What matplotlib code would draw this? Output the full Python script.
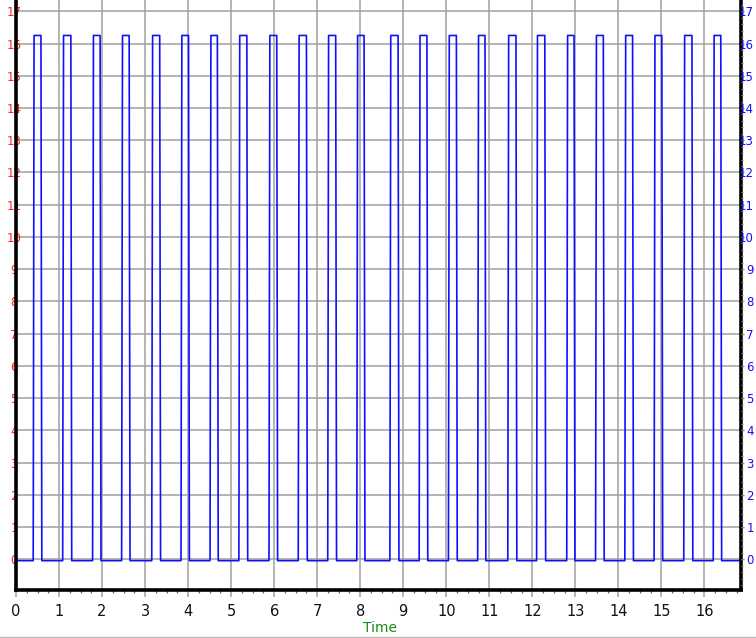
import matplotlib
matplotlib.use("Agg")
import matplotlib.pyplot as plt
from matplotlib.ticker import MultipleLocator
import numpy as np

# Data
rise_times = [0.40, 1.085, 1.78, 2.455, 3.155, 3.835, 4.51, 5.18, 5.88, 6.56, 7.245, 7.92,
              8.69, 9.37, 10.05, 10.73, 11.43, 12.10, 12.80, 13.47, 14.15, 14.83, 15.52, 16.205]
fall_times = [0.60, 1.295, 1.975, 2.65, 3.36, 4.03, 4.70, 5.385, 6.08, 6.77, 7.45, 8.11,
              8.90, 9.57, 10.255, 10.92, 11.64, 12.31, 12.99, 13.67, 14.35, 15.03, 15.73, 16.40]
high_level = 16.25
low_level = -0.04
x_start, x_end = 0.0, 16.85
x_ticks = list(range(0, 17))
x_tick_labels = [str(v) for v in x_ticks]
y_ticks = list(range(0, 18))
y_tick_labels = [str(v) for v in y_ticks]
x_label = "Time"

# Build the waveform from edge times
edge = 0.02
xs = [x_start]
ys = [low_level]
for r, f in zip(rise_times, fall_times):
    xs += [r, r + edge, f - edge, f]
    ys += [low_level, high_level, high_level, low_level]
xs.append(x_end)
ys.append(low_level)

W, H = 756, 638
fig = plt.figure(figsize=(W / 100, H / 100), dpi=100)
ax = fig.add_axes([16 / W, 48 / H, (741 - 16) / W, 590 / H])
ax.set_xlim(x_start, x_end)
ax.set_ylim(-0.95, 17.35)

grid_c = "#a0a0a0"
for v in x_ticks:
    ax.axvline(v, color=grid_c, lw=1.1, zorder=1)
for v in y_ticks:
    ax.axhline(v, color=grid_c, lw=1.1, zorder=1)

ax.plot(xs, ys, color="#1010ff", lw=1.2, zorder=3)

for s in ["left", "bottom", "right"]:
    ax.spines[s].set_linewidth(2.6)
    ax.spines[s].set_color("black")
    ax.spines[s].set_zorder(4)
ax.spines["top"].set_visible(False)

ax.set_xticks(x_ticks)
ax.set_xticklabels(x_tick_labels, fontsize=10.5, color="#111111")
ax.xaxis.set_minor_locator(MultipleLocator(0.25))
ax.tick_params(axis="x", which="major", length=5, width=1.1, color=grid_c, pad=5)
ax.tick_params(axis="x", which="minor", length=2.5, width=0.9, color="#666666")

ax.set_yticks(y_ticks)
ax.set_yticklabels(y_tick_labels, fontsize=8.5, color="#ff2020")
ax.tick_params(axis="y", which="major", length=0, pad=1.3)
for lbl in ax.get_yticklabels():
    lbl.set_horizontalalignment("center")
    lbl.set_zorder(6)

ax2 = ax.twinx()
ax2.set_ylim(ax.get_ylim())
ax2.set_yticks(y_ticks)
ax2.set_yticklabels(y_tick_labels, fontsize=8.5, color="#1010ff")
ax2.yaxis.set_minor_locator(MultipleLocator(0.2))
ax2.tick_params(axis="y", which="major", length=2, width=1, color="#888888", pad=7.2)
ax2.tick_params(axis="y", which="minor", length=1.5, width=0.8, color="#888888")
for lbl in ax2.get_yticklabels():
    lbl.set_horizontalalignment("right")
for s in ax2.spines.values():
    s.set_visible(False)

fig.text(380 / W, 1 - 628 / H, x_label, color="#1a8a1a", fontsize=10,
         ha="center", va="center")
fig.add_artist(plt.Line2D([0, 1], [1 - 636.5 / H] * 2, color="#bbbbbb", lw=1,
                          transform=fig.transFigure))

fig.savefig("out.png", dpi=100)
